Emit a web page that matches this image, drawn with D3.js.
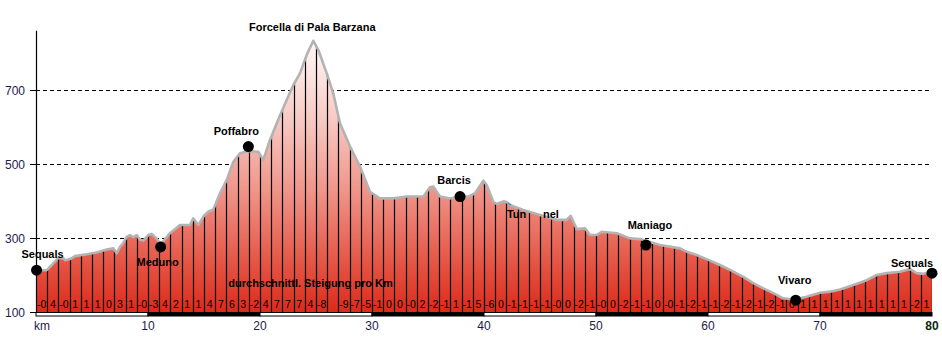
<!DOCTYPE html>
<html><head><meta charset="utf-8">
<script src="https://cdn.jsdelivr.net/npm/d3@7"></script>
<style>
html,body{margin:0;padding:0;background:#fff;}
svg{display:block;font-family:"Liberation Sans",Arial,sans-serif;}
</style></head>
<body>
<svg id="c" width="942" height="339"></svg>
<script>
// ---- data ----
const profileKm = [0.0,0.96,1.25,1.70,2.0,2.44,2.59,3.04,3.48,4.53,5.42,6.31,6.90,7.21,7.50,7.79,8.10,8.39,8.69,8.99,9.29,9.58,10.03,10.33,10.63,11.07,11.34,11.96,12.86,13.75,14.04,14.49,14.94,15.38,15.83,16.43,17.03,17.62,18.21,18.96,19.85,20.29,20.89,21.79,22.38,22.97,23.57,24.17,24.76,25.21,25.96,26.54,27.14,28.04,28.93,29.82,30.71,31.90,33.10,34.58,35.18,35.47,36.07,36.96,37.86,38.60,39.20,39.94,40.24,40.83,41.13,41.72,42.03,42.32,43.51,45.0,46.49,47.38,47.74,48.28,49.02,49.46,50.06,50.51,51.85,53.04,53.93,55.71,57.5,58.1,58.99,60.03,61.07,61.96,63.15,64.04,64.94,65.83,66.72,67.62,68.81,70.0,70.89,71.79,72.97,74.17,75.06,75.96,77.14,78.04,78.63,79.22,79.82,80.0];
const profileElev = [213,213,222,236,247,245,240,243,251,256,261,269,272,259,276,286,303,308,302,308,295,293,308,311,303,286,290,313,335,335,353,335,358,371,377,421,457,506,529,535,533,511,565,632,673,713,745,795,833,808,745,691,610,547,493,425,407,407,412,412,437,439,412,407,412,412,421,455,443,398,392,399,397,389,376,362,349,349,360,324,326,308,308,317,313,299,297,281,272,263,254,241,227,214,195,178,164,151,137,134,141,152,155,161,173,186,200,205,209,216,205,203,209,205];

const gradeLabels = ["-0","4","-0","1","1","1","0","3","1","-0","-3","4","2","1","1","4","7","6","3","-2","4","7","7","7","4","-8","","-9","-7","-5","-1","0","0","-0","2","-2","-1","1","-1","5","-6","0","-1","-1","-1","-1","-0","0","-2","-1","-0","0","-2","-1","-1","0","-0","-1","-2","-1","-1","-2","-1","-2","-1","-2","-1","0","1","1","1","1","1","1","1","1","1","1","-2","1"];

const placeNames = ["Sequals","Meduno","Poffabro","Forcella di Pala Barzana","Barcis","Maniago","Vivaro","Sequals"];
const placeKm    = [0.05,11.13,18.96,24.76,37.86,54.46,67.83,80.0];
const placeElev  = [213,276,547,833,412,281,132,205];
const placeDot   = [true,true,true,false,true,true,true,true];

const yTicks = [100,300,500,700];
const gridTicks = [300,500,700];
const xTicks = [10,20,30,40,50,60,70];
const xTickLabels = ["10","20","30","40","50","60","70"];

const tunnelKm = 42.05;
const captionText = "durchschnittl. Steigung pro Km";

// ---- layout ----
const svg = d3.select("#c");
const x = d3.scaleLinear().domain([0,80]).range([36,932]);
const y = d3.scaleLinear().domain([100,860]).range([312,30.8]);

const profile = profileKm.map((k,i)=>({k, e:profileElev[i]}));

const defs = svg.append("defs");
const grad = defs.append("linearGradient").attr("id","fillGrad")
  .attr("gradientUnits","userSpaceOnUse").attr("x1",0).attr("x2",0)
  .attr("y1",y(840)).attr("y2",y(100));
[[0,"#fffafa"],[0.3,"#f7c9c2"],[0.55,"#f0968b"],[0.8,"#e65a4a"],[1,"#dd2a1a"]]
  .forEach(([o,c])=>grad.append("stop").attr("offset",o).attr("stop-color",c));

const area = d3.area().x(d=>x(d.k)).y0(y(100)).y1(d=>y(d.e));
const line = d3.line().x(d=>x(d.k)).y(d=>y(d.e));

defs.append("clipPath").attr("id","areaClip").append("path").attr("d",area(profile));

// gridlines
svg.append("g").selectAll("line").data(gridTicks).join("line")
  .attr("x1",x(0)).attr("x2",x(80)).attr("y1",d=>Math.round(y(d))+0.5).attr("y2",d=>Math.round(y(d))+0.5)
  .attr("stroke","#000").attr("stroke-width",1).attr("stroke-dasharray","4,3");

// area fill
svg.append("path").attr("d",area(profile)).attr("fill","url(#fillGrad)");

// vertical km lines
svg.append("g").attr("clip-path","url(#areaClip)").selectAll("line")
  .data(d3.range(1,81)).join("line")
  .attr("x1",d=>Math.round(x(d))+0.5).attr("x2",d=>Math.round(x(d))+0.5)
  .attr("y1",y(100)).attr("y2",y(860))
  .attr("stroke","#000").attr("stroke-width",1.2);

// outline
svg.append("path").attr("d",line(profile)).attr("fill","none")
  .attr("stroke","#b3b3b3").attr("stroke-width",2.6).attr("stroke-linejoin","round");

// grade labels
svg.append("g").selectAll("text").data(gradeLabels).join("text")
  .attr("x",(d,i)=>x(i+0.5)).attr("y",308)
  .attr("text-anchor","middle").attr("font-size",10.5).attr("fill","#000")
  .text(d=>d);

// caption
svg.append("text").attr("x",x(17.17)).attr("y",287).attr("font-size",11)
  .attr("font-weight","bold").text(captionText);

// tunnel
svg.append("text").attr("x",x(tunnelKm)).attr("y",218).attr("font-size",11)
  .attr("font-weight","bold").text("Tun");
svg.append("text").attr("x",x(tunnelKm)+36).attr("y",218).attr("font-size",11)
  .attr("font-weight","bold").text("nel");
svg.append("line").attr("x1",x(tunnelKm)+1).attr("x2",x(tunnelKm)+4)
  .attr("y1",203).attr("y2",205).attr("stroke","#3a8ad8").attr("stroke-width",1.5);

// bottom km strip
svg.append("g").selectAll("rect").data(d3.range(0,80,10)).join("rect")
  .attr("x",d=>x(d)).attr("y",312.5).attr("width",x(10)-x(0)).attr("height",3.5)
  .attr("fill",(d,i)=>i%2? "#000":"#fff").attr("stroke","#000").attr("stroke-width",1);

// y axis
svg.append("line").attr("x1",36.5).attr("x2",36.5).attr("y1",y(860)).attr("y2",312)
  .attr("stroke","#000").attr("stroke-width",1.2);
svg.append("g").selectAll("line").data(yTicks).join("line")
  .attr("x1",30).attr("x2",36).attr("y1",d=>Math.round(y(d))+0.5).attr("y2",d=>Math.round(y(d))+0.5)
  .attr("stroke","#000");
svg.append("g").selectAll("text").data(yTicks).join("text")
  .attr("x",25).attr("y",d=>y(d)+4.5).attr("text-anchor","end")
  .attr("font-size",12).attr("fill","#1c1c4c").text(d=>d);

// x tick labels
svg.append("g").selectAll("text").data(xTicks).join("text")
  .attr("x",d=>x(d)).attr("y",330).attr("text-anchor","middle")
  .attr("font-size",12).attr("fill","#1c1c4c").text((d,i)=>xTickLabels[i]);
svg.append("text").attr("x",34).attr("y",330).attr("font-size",12).attr("fill","#1c1c4c").text("km");
svg.append("text").attr("x",x(80)).attr("y",330).attr("text-anchor","middle")
  .attr("font-size",12).attr("font-weight","bold").attr("fill","#0b2a0b").text("80");

// places
const labelOff = [[6,-12],[-3,19],[-12,-12],[-1,-10],[-6,-13],[4,-16],[-1,-16],[-20,-6]];
const places = placeNames.map((n,i)=>({n,k:placeKm[i],e:placeElev[i],dot:placeDot[i],off:labelOff[i]}));
svg.append("g").selectAll("circle").data(places.filter(p=>p.dot)).join("circle")
  .attr("cx",d=>x(d.k)).attr("cy",d=>y(d.e)).attr("r",5.5).attr("fill","#000");
svg.append("g").selectAll("text").data(places).join("text")
  .attr("x",d=>x(d.k)+d.off[0]).attr("y",d=>y(d.e)+d.off[1])
  .attr("text-anchor","middle").attr("font-size",11).attr("font-weight","bold")
  .attr("fill","#000").text(d=>d.n);
</script>
</body></html>
